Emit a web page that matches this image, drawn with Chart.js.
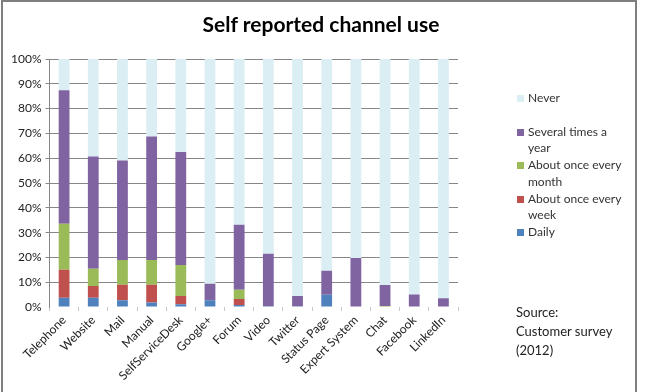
<!DOCTYPE html>
<html>
<head>
<meta charset="utf-8">
<script src="https://cdn.jsdelivr.net/npm/chart.js@4"></script>
<style>
  html, body { margin:0; padding:0; background:#fff; width:645px; height:392px; overflow:hidden; font-family: Lato, "Liberation Sans", sans-serif; }
  #frame { position:absolute; left:1px; top:0px; width:636px; height:400px; border:2px solid #7f7f7f; box-sizing:border-box; }
  #wrap { position:absolute; left:0; top:0; width:645px; height:392px; }
  #title { position:absolute; left:0; top:11px; width:642px; text-align:center; font-size:21px; font-weight:bold; color:#000; line-height:26px; }
  #legend { position:absolute; left:517px; top:90px; width:115px; color:#333; font-size:12px; }
  .item { position:relative; height:33.5px; line-height:16.5px; padding-left:11px; width:102px; }
  .sw { position:absolute; left:0; top:5px; width:7px; height:7px; }
  #source { position:absolute; left:516px; top:303px; font-size:13px; line-height:19px; color:#222; }
</style>
</head>
<body>
<div id="frame"></div>
<div id="wrap"><canvas id="c" width="645" height="392"></canvas></div>
<div id="title">Self reported channel use</div>
<div id="legend"></div>
<div id="source">Source:<br>Customer survey<br>(2012)</div>
<script>
const categories = ["Telephone","Website","Mail","Manual","SelfServiceDesk","Google+","Forum","Video","Twitter","Status Page","Expert System","Chat","Facebook","LinkedIn"];
const daily   = [3.8, 3.8, 2.7, 1.8, 1.1, 2.7, 0.8, 0.3, 0.3, 5.0, 0,   0,   0,   0];
const weekly  = [11.2, 4.7, 6.3, 7.2, 3.4, 0,   2.4, 0,   0,   0,   0,   0,   0,   0];
const monthly = [18.6, 6.9, 10.0, 10.0, 12.5, 0, 3.8, 0,   0,   0,   0,   0.4, 0,   0];
const several = [53.8, 45.3, 40.1, 49.8, 45.5, 6.7, 26.2, 21.2, 4.2, 9.6, 19.8, 8.5, 5.1, 3.6];
const never   = categories.map((_, i) => 100 - daily[i] - weekly[i] - monthly[i] - several[i]);
const seriesNames = ["Daily","About once every week","About once every month","Several times a year","Never"];
const seriesColors = ["#4F81BD","#C0504D","#9BBB59","#8064A2","#DAEEF3"];
const seriesData = [daily, weekly, monthly, several, never];
const yTicks = [0,10,20,30,40,50,60,70,80,90,100];

const datasets = seriesNames.map((n, i) => ({
  label: n, data: seriesData[i], backgroundColor: seriesColors[i],
  borderWidth: 0, categoryPercentage: 1.0, barPercentage: 0.37
}));

new Chart(document.getElementById('c'), {
  type: 'bar',
  data: { labels: categories, datasets },
  options: {
    responsive: false, animation: false,
    layout: { padding: { left: 7, right: 187, top: 59, bottom: 7 } },
    plugins: {
      legend: { display: false },
      tooltip: { enabled: false },
      title: { display: false }
    },
    scales: {
      x: { stacked: true,
        grid: { drawOnChartArea: false, drawTicks: true, tickLength: 4, color: '#c8c8c8', offset: true },
        border: { display: false },
        ticks: { autoSkip: false, maxRotation: 45, minRotation: 45, color: '#222', padding: 2,
          font: { family: 'Lato', size: 12 } } },
      y: { stacked: true, min: 0, max: 100,
        afterBuildTicks: s => { s.ticks = yTicks.map(v => ({ value: v })); },
        grid: { color: c => (c.tick && c.tick.value === 0) ? 'rgba(0,0,0,0)' : '#868686', tickLength: 4, lineWidth: 1 },
        border: { display: true, color: '#868686' },
        ticks: { callback: v => v + '%', color: '#222', padding: 4, font: { family: 'Lato', size: 12 } } }
    }
  }
});

const legend = document.getElementById('legend');
for (let i = seriesNames.length - 1; i >= 0; i--) {
  const d = document.createElement('div');
  d.className = 'item';
  d.innerHTML = '<span class="sw" style="background:' + seriesColors[i] + '"></span>' + seriesNames[i];
  legend.appendChild(d);
}
</script>
</body>
</html>
